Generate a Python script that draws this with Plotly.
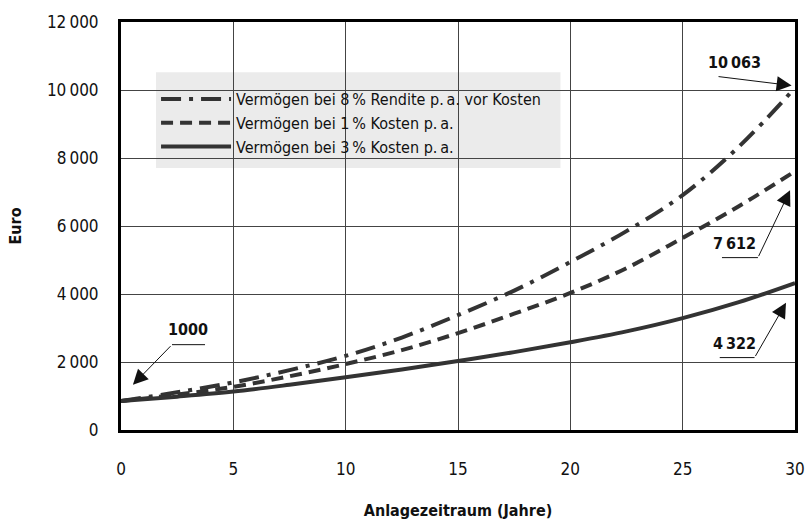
import plotly.graph_objects as go

# Data
years = [0, 2.5, 5, 7.5, 10, 12.5, 15, 17.5, 20, 22.5, 25, 27.5, 30]
rendite_8 = [850, 1110, 1400, 1760, 2180, 2720, 3380, 4100, 4940, 5850, 6910, 8330, 10063]
kosten_1 = [850, 1040, 1270, 1580, 1940, 2350, 2850, 3420, 4030, 4760, 5650, 6580, 7612]
kosten_3 = [850, 980, 1130, 1330, 1550, 1780, 2030, 2290, 2580, 2900, 3290, 3760, 4322]

series_names = [
    "Vermögen bei 8\u2009% Rendite p.\u2009a. vor Kosten",
    "Vermögen bei 1\u2009% Kosten p.\u2009a.",
    "Vermögen bei 3\u2009% Kosten p.\u2009a.",
]
x_ticks = [0, 5, 10, 15, 20, 25, 30]
y_ticks = [0, 2000, 4000, 6000, 8000, 10000, 12000]
y_tick_labels = ["0", "2\u2009000", "4\u2009000", "6\u2009000", "8\u2009000", "10\u2009000", "12\u2009000"]

FONT = "Liberation Sans Narrow, DejaVu Sans Condensed, Roboto Condensed, Arial Narrow, sans-serif"
LINE = "#333333"

fig = go.Figure()
styles = ["20px,8px,4px,8px", "12px,7px", "solid"]
for i, (name, vals, dash) in enumerate(zip(series_names, [rendite_8, kosten_1, kosten_3], styles)):
    fig.add_trace(go.Scatter(
        x=years, y=vals, mode="lines", name=name, legendgroup="g%d" % i,
        line=dict(color=LINE, width=4, dash=dash, shape="spline", smoothing=1),
        hoverinfo="skip",
    ))

# Legend background box
fig.add_shape(type="rect", xref="paper", yref="paper",
              x0=0.052, x1=0.652, y0=0.642, y1=0.877,
              fillcolor="#ebebeb", line=dict(width=0), layer="between")

# Value callouts
def callout(text, tx, ty, tail, tip, underline=None):
    fig.add_annotation(x=tx, y=ty, text="<b>%s</b>" % text, showarrow=False,
                       font=dict(family=FONT, size=16, color="#111"))
    if underline:
        fig.add_shape(type="line", x0=underline[0], x1=underline[1], y0=underline[2], y1=underline[2],
                      line=dict(color="#111", width=1))
    fig.add_annotation(x=tip[0], y=tip[1], ax=tail[0], ay=tail[1], axref="x", ayref="y",
                       text="", showarrow=True, arrowhead=2, arrowsize=3, arrowwidth=1,
                       arrowcolor="#111", standoff=0)

callout("1000", 2.98, 2950, (2.27, 2510), (0.53, 1330), underline=(2.27, 3.74, 2510))
callout("10\u2009063", 27.3, 10800, (26.53, 10400), (29.85, 10130))
callout("7\u2009612", 27.3, 5500, (28.35, 5070), (29.78, 7050), underline=(26.75, 28.35, 5070))
callout("4\u2009322", 27.3, 2550, (28.2, 2130), (29.6, 3740), underline=(26.65, 28.2, 2130))

fig.update_layout(
    width=807, height=520,
    margin=dict(l=121, r=12, t=22, b=90),
    paper_bgcolor="white", plot_bgcolor="white",
    font=dict(family=FONT, size=17, color="#111"),
    showlegend=True,
    legend=dict(x=0.052, y=0.853, xanchor="left", yanchor="top",
                bgcolor="rgba(0,0,0,0)", borderwidth=0,
                font=dict(family=FONT, size=16, color="#111"),
                itemwidth=70, tracegroupgap=2, traceorder="normal"),
    hovermode=False,
)
fig.update_xaxes(range=[0, 30], tickvals=x_ticks, ticktext=[str(v) for v in x_ticks],
                 showgrid=True, gridcolor="#444", gridwidth=1,
                 showline=True, linecolor="#000", linewidth=3, mirror=True,
                 ticks="", ticklabelstandoff=22, zeroline=False, automargin=False,
                 title=dict(text="<b>Anlagezeitraum (Jahre)</b>", standoff=38,
                            font=dict(family=FONT, size=16)))
fig.update_yaxes(range=[0, 12000], tickvals=y_ticks, ticktext=y_tick_labels,
                 showgrid=True, gridcolor="#444", gridwidth=1,
                 showline=True, linecolor="#000", linewidth=3, mirror=True,
                 ticks="", ticklabelstandoff=16, zeroline=False, automargin=False,
                 title=dict(text="<b>Euro</b>", standoff=22,
                            font=dict(family=FONT, size=16)))

fig.write_html("out.html")
